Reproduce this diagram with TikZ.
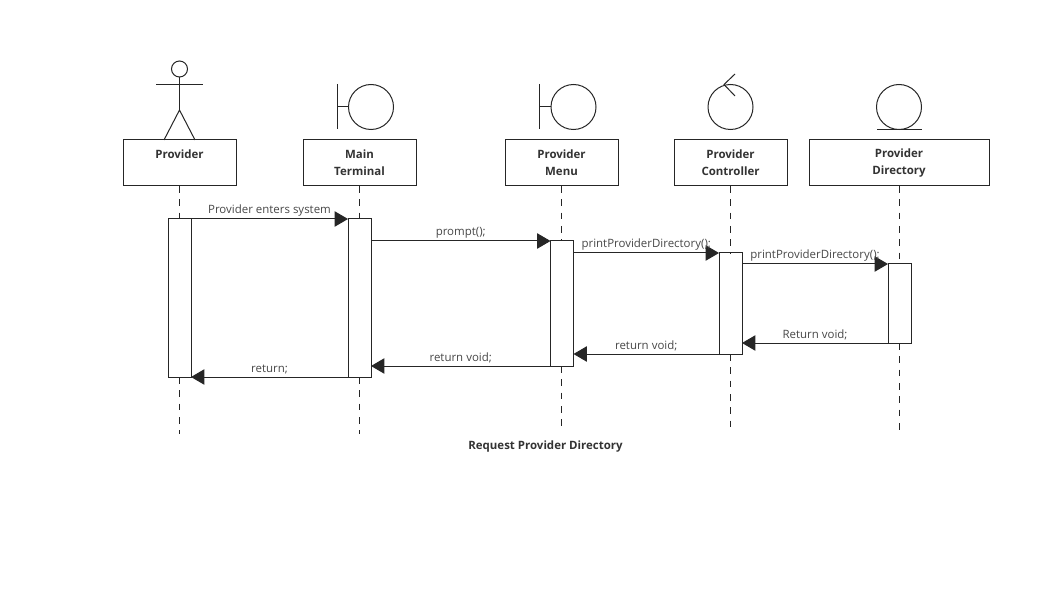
\documentclass[tikz,border=0pt]{standalone}
\usepackage{fontspec}
\setmainfont{Open Sans}
\usetikzlibrary{arrows.meta}
\tikzset{
 headbox/.style={draw=black!85,fill=white,line width=0.75pt,outer sep=0pt,inner sep=0pt,minimum width=84.75pt,minimum height=34.5pt,align=center,text=black!80,font=\bfseries\fontsize{8.6}{12.75}\selectfont},
 actbar/.style={draw=black!85,fill=white,line width=0.75pt,outer sep=0pt,inner sep=0pt,minimum width=17.25pt},
 icon/.style={circle,draw=black!85,line width=0.75pt,outer sep=0pt,inner sep=0pt,minimum size=33.75pt},
 iconline/.style={draw=black!85,line width=0.75pt},
 lifeline/.style={draw=black!85,line width=0.75pt,dash pattern=on 5pt off 5pt},
 msg/.style={draw=black!85,line width=0.75pt,-{Triangle[length=10pt,width=11.5pt]}},
 msglabel/.style={above,inner sep=0pt,yshift=1.6pt,text=black!72,font=\fontsize{8.6}{10}\selectfont}
}
\begin{document}
\begin{tikzpicture}[x=0.75pt,y=-0.75pt]
 \useasboundingbox (0,0) rectangle (1063,595);
 \node[headbox] (provider) at (179.5,163) {Provider\\~};
 \node[headbox] (mainterm) at (359.5,163) {Main\\Terminal};
 \node[headbox] (provmenu) at (561.5,163) {Provider\\Menu};
 \node[headbox] (provctrl) at (730.5,163) {Provider\\Controller};
 \node[headbox,minimum width=135pt] (provdir) at (899,163) {Provider\\Directory};
 \node[actbar,minimum height=118.5pt] (providerbar) at (179.5,298) {};
 \node[actbar,minimum height=118.5pt] (maintermbar) at (359.5,298) {};
 \node[actbar,minimum height=93.75pt] (provmenubar) at (562,303.5) {};
 \node[actbar,minimum height=75.75pt] (provctrlbar) at (730.5,303.5) {};
 \node[actbar,minimum height=59.25pt] (provdirbar) at (899.5,303.5) {};
 \coordinate (providerend) at (179.5,434);
 \coordinate (maintermend) at (359.5,434);
 \coordinate (provmenuend) at (561.5,430);
 \coordinate (provctrlend) at (730.5,430);
 \coordinate (provdirend) at (899,432);
 \draw[lifeline] (provider.south) -- (provider.south |- providerbar.north);
 \draw[lifeline] (providerbar.south) -- (providerend);
 \draw[lifeline] (mainterm.south) -- (mainterm.south |- maintermbar.north);
 \draw[lifeline] (maintermbar.south) -- (maintermend);
 \draw[lifeline] (provmenu.south) -- (provmenu.south |- provmenubar.north);
 \draw[lifeline] (provmenubar.south -| provmenuend) -- (provmenuend);
 \draw[lifeline] (provctrl.south) -- (provctrl.south |- provctrlbar.north);
 \draw[lifeline] (provctrlbar.south) -- (provctrlend);
 \draw[lifeline] (provdir.south) -- (provdir.south |- provdirbar.north);
 \draw[lifeline] (provdirbar.south -| provdirend) -- (provdirend);
 \draw[msg] (providerbar.north east) -- node[msglabel] (enterlabel) {Provider enters system} (maintermbar.north west);
 \draw[msg] (maintermbar.east |- provmenubar.north west) -- node[msglabel] (promptlabel) {prompt();} (provmenubar.north west);
 \draw[msg] (provmenubar.east |- provctrlbar.north west) -- node[msglabel] (printlabela) {printProviderDirectory();} (provctrlbar.north west);
 \draw[msg] (provctrlbar.east |- provdirbar.north west) -- node[msglabel] (printlabelb) {printProviderDirectory();} (provdirbar.north west);
 \draw[msg] (provdirbar.south west) -- node[msglabel] (retlabela) {Return void;} (provctrlbar.east |- provdirbar.south west);
 \draw[msg] (provctrlbar.south west) -- node[msglabel] (retlabelb) {return void;} (provmenubar.east |- provctrlbar.south west);
 \draw[msg] (provmenubar.south west) -- node[msglabel] (retlabelc) {return void;} (maintermbar.east |- provmenubar.south west);
 \draw[msg] (maintermbar.south west) -- node[msglabel] (retlabeld) {return;} (providerbar.south east);
 \node[text=black!80,font=\bfseries\fontsize{8.6}{10}\selectfont] (title) at (545.5,447) {Request Provider Directory};
 % actor
 \node[icon,minimum size=12pt] (actorhead) at (179.5,69) {};
 \draw[iconline] (actorhead.south) -- (179.5,110);
 \draw[iconline] (156,85) -- (203,85);
 \draw[iconline] (164,140) -- (179.5,110) -- (195,140);
 % boundary
 \node[icon] (mainicon) at (371,107) {};
 \draw[iconline] (mainicon.west) -- (337,107);
 \draw[iconline] (337,84) -- (337,129);
 \node[icon] (menuicon) at (573.5,107) {};
 \draw[iconline] (menuicon.west) -- (539,107);
 \draw[iconline] (539,84) -- (539,129);
 % control
 \node[icon] (ctrlicon) at (730.5,107) {};
 \draw[iconline] (735,74) -- (724,84.5) -- (735,96);
 % entity
 \node[icon] (diricon) at (899,107) {};
 \draw[iconline] (877,129.5) -- (922,129.5);
\end{tikzpicture}
\end{document}
